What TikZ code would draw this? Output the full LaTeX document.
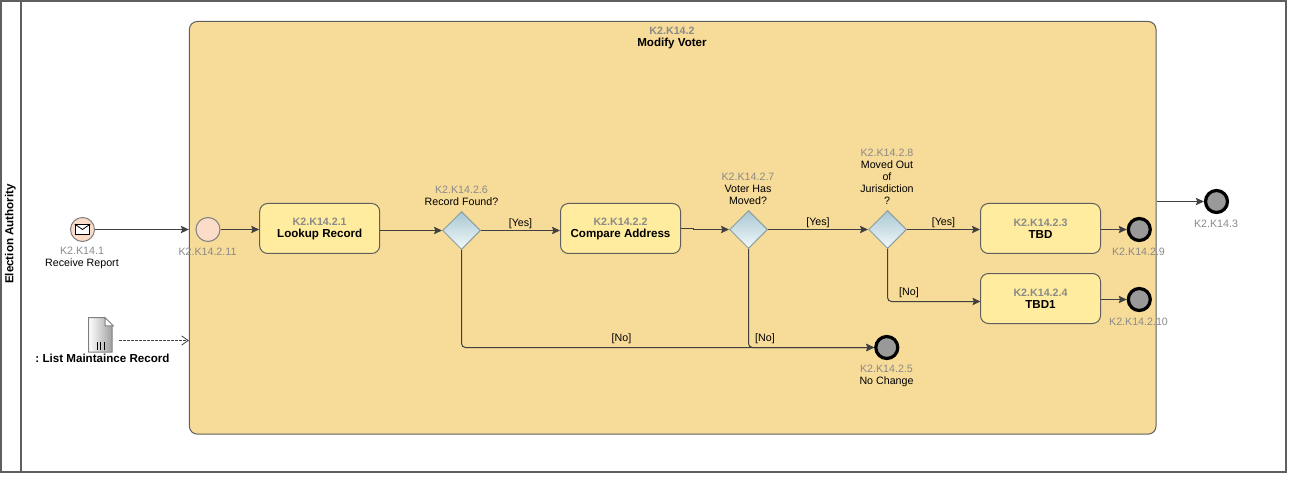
\documentclass[tikz,border=0pt]{standalone}
\usepackage{fontspec}
\setmainfont{Liberation Sans}
\usetikzlibrary{arrows.meta,shapes.geometric}
\definecolor{linegray}{HTML}{5F5F5F}
\definecolor{flowgray}{HTML}{404040}
\definecolor{idgray}{HTML}{8A8A8A}
\definecolor{groupfill}{HTML}{F7DB98}
\definecolor{taskfill}{HTML}{FFEC9F}
\definecolor{eventfill}{HTML}{FBDCC8}
\definecolor{gatetop}{HTML}{A9C7D2}
\definecolor{gatebottom}{HTML}{F2F9FB}
\definecolor{gateline}{HTML}{8A9E9E}
\begin{document}
\begin{tikzpicture}[x=0.75pt,y=-0.75pt,font=\fontsize{8}{9}\selectfont,line width=0.75pt,
pool/.style={draw=linegray,rectangle,line width=1.4pt,inner sep=0pt,minimum width=963.5pt,minimum height=353pt},
group/.style={draw=linegray,fill=groupfill,rectangle,rounded corners=6pt,inner sep=0pt,minimum width=725pt,minimum height=309.5pt},
task/.style={draw=linegray,fill=taskfill,rectangle,rounded corners=6pt,inner sep=0pt,minimum width=90pt,minimum height=37.5pt,align=center,font=\fontsize{8}{9}\selectfont\bfseries},
gateway/.style={diamond,draw=gateline,aspect=1,inner sep=0pt,minimum size=28.5pt,top color=gatetop,bottom color=gatebottom},
startevent/.style={circle,draw=gray,fill=eventfill,inner sep=0pt,minimum size=18pt},
endevent/.style={circle,draw=black,fill=gray!80,line width=2.4pt,inner sep=0pt,minimum size=16.5pt},
tag/.style={align=center,inner sep=0pt},
flow/.style={draw=flowgray,-{Stealth[length=6pt,width=5.5pt,inset=1pt]}},
noflow/.style={flow,rounded corners=3pt},
dataflow/.style={draw=flowgray,dash pattern=on 2pt off 1pt,line width=0.6pt,-{Straight Barb[length=5pt,width=7pt]}}]
\newcommand{\idtxt}[1]{\textcolor{idgray}{#1}}
\newcommand{\nametxt}[1]{{\fontsize{8.7}{9}\selectfont\bfseries #1}}
\useasboundingbox (0,0) rectangle (1316,502);

% pool and group
\draw (643.5,236.5) node[pool] (pool) {};
\draw[draw=linegray,line width=1.4pt] ([xshift=15.6pt]pool.north west) -- ([xshift=15.6pt]pool.south west);
\draw (10.5,234) node[tag,rotate=90] (lanename) {\nametxt{Election Authority}};
\draw (672.7,227.8) node[group] (modify) {};
\draw (672,38) node[tag,font=\fontsize{8}{9}\selectfont\bfseries] (modifytag) {\idtxt{K2.K14.2}\\\nametxt{Modify Voter}};

% tasks
\draw (319.7,228.5) node[task] (lookup) {\idtxt{K2.K14.2.1}\\\nametxt{Lookup Record}};
\draw (620.5,228.5) node[task] (compare) {\idtxt{K2.K14.2.2}\\\nametxt{Compare Address}};
\draw (1040.5,228.5) node[task] (tbd) {\idtxt{K2.K14.2.3}\\\nametxt{TBD}};
\draw (1040.5,298.5) node[task] (tbdone) {\idtxt{K2.K14.2.4}\\\nametxt{TBD1}};

% gateways
\draw (461.5,230.5) node[gateway] (found) {};
\draw (748.5,229.5) node[gateway] (moved) {};
\draw (887.5,229.5) node[gateway] (juris) {};
\draw (461.5,196) node[tag] (foundtag) {\idtxt{K2.K14.2.6}\\Record Found?};
\draw (748,189) node[tag] (movedtag) {\idtxt{K2.K14.2.7}\\Voter Has\\Moved?};
\draw (887,177) node[tag] (juristag) {\idtxt{K2.K14.2.8}\\Moved Out\\of\\Jurisdiction\\?};

% events
\draw (82.5,229.5) node[startevent] (report) {};
\draw (82.5,229.5) node[rectangle,draw=black,fill=white,line width=0.7pt,inner sep=0pt,minimum width=11pt,minimum height=7.5pt] (envelope) {};
\draw[line width=0.6pt] (envelope.north west) -- (envelope.center) -- (envelope.north east);
\draw (208,229.5) node[startevent] (start) {};
\draw (886.8,347.5) node[endevent] (nochange) {};
\draw (1139.3,229.5) node[endevent] (endtbd) {};
\draw (1139.3,299.5) node[endevent] (endtbdone) {};
\draw (1216.5,201.5) node[endevent] (endmodify) {};
\draw (82,258) node[tag] (reporttag) {\idtxt{K2.K14.1}\\Receive Report};
\draw (207.5,251.5) node[tag] (starttag) {\idtxt{K2.K14.2.11}};
\draw (886.5,376) node[tag] (nochangetag) {\idtxt{K2.K14.2.5}\\No Change};
\draw (1138.5,251.5) node[tag] (endtbdtag) {\idtxt{K2.K14.2.9}};
\draw (1138.5,321.5) node[tag] (endtbdonetag) {\idtxt{K2.K14.2.10}};
\draw (1216,223.5) node[tag] (endmodifytag) {\idtxt{K2.K14.3}};

% document
\draw (100.9,334.9) node[rectangle,inner sep=0pt,minimum width=17.8pt,minimum height=25.2pt] (record) {};
\draw[draw=gray,left color=white,right color=gray!75] (record.north west) -- ++(15.5,0) -- ++(8.2,8.2) |- (record.south west) -- cycle;
\draw[draw=gray,fill=white] (record.north east) ++(-8.2,0) -- ++(0,8.2) -- ++(8.2,0) -- cycle;
\draw[line width=0.6pt,draw=black] (97.3,350) -- ++(0,-8) (100.8,350) -- ++(0,-8) (104.3,350) -- ++(0,-8);
\draw (102.5,358.5) node[tag] (recordtag) {\nametxt{:\ List Maintaince Record}};
\coordinate (recordout) at (119,340.5);
\coordinate (tbdonein) at (980.5,301.5);

% connectors
\draw[flow] (report.east) -- (report.east -| modify.west);
\draw[dataflow] (recordout) -- (recordout -| modify.west);
\draw[flow] (start.east) -- (start.east -| lookup.west);
\draw[flow] (lookup.east |- found.west) -- (found.west);
\draw[flow] (found.east) -- (found.east -| compare.west) node[midway,above=-2pt] (foundyes) {[Yes]};
\draw[flow] (compare.east) -- ++(12,0) |- (moved.west);
\draw[flow] (moved.east) -- (juris.west) node[midway,above=-2pt] (movedyes) {[Yes]};
\draw[flow] (juris.east) -- (tbd.west |- juris.east) node[midway,above=-2pt] (jurisyes) {[Yes]};
\draw[noflow] (found.south) |- (nochange.west);
\draw[noflow] (moved.south) |- (nochange.west);
\draw[noflow] (juris.south) |- (tbdonein);
\draw[flow] (tbd.east |- endtbd.west) -- (endtbd.west);
\draw[flow] (tbdone.east |- endtbdone.west) -- (endtbdone.west);
\draw[flow] (modify.east |- endmodify.west) -- (endmodify.west);
\draw (621.5,338.5) node[tag] (foundno) {[No]};
\draw (765,338.5) node[tag] (movedno) {[No]};
\draw (909,292.5) node[tag] (jurisno) {[No]};
\end{tikzpicture}
\end{document}
